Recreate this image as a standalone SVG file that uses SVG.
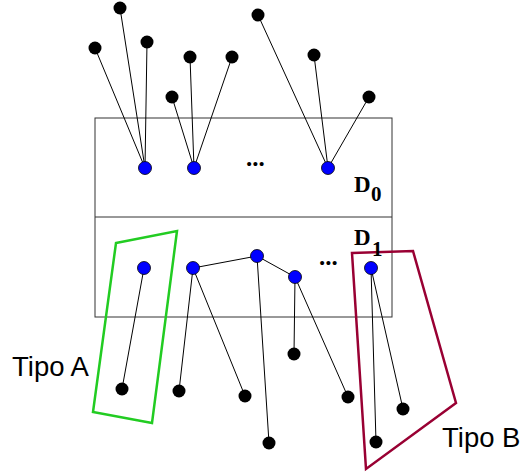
<svg xmlns="http://www.w3.org/2000/svg" width="527" height="475" viewBox="0 0 527 475">
<style>
.e{stroke:#000;stroke-width:1;fill:none}
.b{fill:#0000ff;stroke:#000;stroke-width:0.8}
.k{fill:#000}
.lbl{font-family:"Liberation Serif",serif;font-weight:bold;fill:#000}
.dots{font-family:"Liberation Serif",serif;font-weight:bold;font-size:25px;fill:#000}
.tipo{font-family:"Liberation Sans",sans-serif;font-size:27.5px;fill:#000}
</style>
<rect x="95" y="118" width="297" height="199" fill="#fff" stroke="#333" stroke-width="1"/>
<line x1="95" y1="217" x2="392" y2="217" stroke="#333" stroke-width="1"/>
<g id="connectors">
<line class="e" x1="145" y1="168" x2="95" y2="48"/>
<line class="e" x1="145" y1="168" x2="120" y2="8"/>
<line class="e" x1="145" y1="168" x2="147" y2="42"/>
<line class="e" x1="194" y1="168" x2="172" y2="97"/>
<line class="e" x1="194" y1="168" x2="190" y2="57"/>
<line class="e" x1="194" y1="168" x2="232" y2="57"/>
<line class="e" x1="328" y1="168" x2="258" y2="15"/>
<line class="e" x1="328" y1="168" x2="314" y2="55"/>
<line class="e" x1="328" y1="168" x2="369" y2="97"/>
<line class="e" x1="144" y1="268" x2="122" y2="389"/>
<line class="e" x1="193" y1="268" x2="179" y2="391"/>
<line class="e" x1="193" y1="268" x2="245" y2="396"/>
<line class="e" x1="193" y1="268" x2="257" y2="256"/>
<line class="e" x1="257" y1="256" x2="295" y2="277"/>
<line class="e" x1="257" y1="256" x2="269" y2="443"/>
<line class="e" x1="295" y1="277" x2="294" y2="354"/>
<line class="e" x1="295" y1="277" x2="348" y2="397"/>
<line class="e" x1="371" y1="268" x2="376" y2="442"/>
<line class="e" x1="371" y1="268" x2="403" y2="409"/>
</g>
<g id="top-black">
<circle class="k" cx="120" cy="8" r="6.5"/>
<circle class="k" cx="95" cy="48" r="6.5"/>
<circle class="k" cx="147" cy="42" r="6.5"/>
<circle class="k" cx="190" cy="57" r="6.5"/>
<circle class="k" cx="232" cy="57" r="6.5"/>
<circle class="k" cx="172" cy="97" r="6.5"/>
<circle class="k" cx="258" cy="15" r="6.5"/>
<circle class="k" cx="314" cy="55" r="6.5"/>
<circle class="k" cx="369" cy="97" r="6.5"/>
</g>
<g id="d0-nodes">
<circle class="b" cx="145" cy="168" r="6.5"/>
<circle class="b" cx="194" cy="168" r="6.5"/>
<circle class="b" cx="328" cy="168" r="6.5"/>
<text class="dots" x="246" y="166">...</text>
</g>
<g id="d1-nodes">
<circle class="b" cx="144" cy="268" r="6.5"/>
<circle class="b" cx="193" cy="268" r="6.5"/>
<circle class="b" cx="257" cy="256" r="6.5"/>
<circle class="b" cx="295" cy="277" r="6.5"/>
<circle class="b" cx="371" cy="268" r="6.5"/>
<text class="dots" x="319" y="265">...</text>
</g>
<g id="bottom-black">
<circle class="k" cx="122" cy="389" r="6.5"/>
<circle class="k" cx="179" cy="391" r="6.5"/>
<circle class="k" cx="245" cy="396" r="6.5"/>
<circle class="k" cx="269" cy="443" r="6.5"/>
<circle class="k" cx="294" cy="354" r="6.5"/>
<circle class="k" cx="348" cy="397" r="6.5"/>
<circle class="k" cx="403" cy="409" r="6.5"/>
<circle class="k" cx="376" cy="442" r="6.5"/>
</g>
<g id="tipoA">
<polygon points="116,243 177,231 152,423 93,412" fill="none" stroke="#22cc22" stroke-width="2.5"/>
<text class="tipo" x="12" y="376">Tipo A</text>
</g>
<g id="tipoB">
<polygon points="352,253 413,251 456,403 366,469" fill="none" stroke="#990033" stroke-width="2.5"/>
<text class="tipo" x="442" y="447">Tipo B</text>
</g>
<g id="D0"><text class="lbl" x="354" y="192" font-size="23">D</text><text class="lbl" x="371" y="201" font-size="21">0</text></g>
<g id="D1"><text class="lbl" x="354" y="245" font-size="23">D</text><text class="lbl" x="372" y="256" font-size="21">1</text></g>
</svg>
